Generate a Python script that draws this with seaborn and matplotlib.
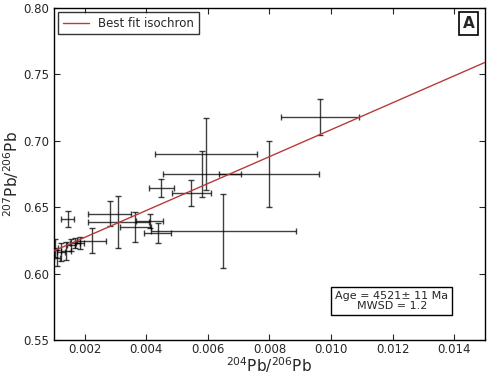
import numpy as np
import pandas as pd
import matplotlib
matplotlib.use("Agg")
import matplotlib.pyplot as plt
import seaborn as sns

# Data
pb204_206 = [0.00964, 0.00799, 0.00595, 0.00582, 0.00547, 0.00449, 0.00650,
             0.00145, 0.00223, 0.00281, 0.00310, 0.00365, 0.00411, 0.00437,
             0.00103, 0.00110, 0.00123, 0.00139, 0.00155, 0.00168, 0.00184]
pb207_206 = [0.718, 0.675, 0.690, 0.675, 0.6607, 0.6645, 0.632,
             0.6411, 0.6245, 0.6449, 0.6389, 0.6351, 0.6396, 0.6306,
             0.6193, 0.6117, 0.6163, 0.6170, 0.6215, 0.6230, 0.6230]
x_err = [0.00128, 0.00162, 0.00165, 0.00126, 0.00063, 0.00040, 0.00236,
         0.00021, 0.00047, 0.00071, 0.00100, 0.00049, 0.00045, 0.00045,
         0.00010, 0.00010, 0.00013, 0.00016, 0.00013, 0.00016, 0.00013]
y_err = [0.0136, 0.0248, 0.0271, 0.0173, 0.0098, 0.0068, 0.0279,
         0.0060, 0.0094, 0.0094, 0.0196, 0.0113, 0.0053, 0.0075,
         0.0068, 0.0060, 0.0068, 0.0068, 0.0045, 0.0038, 0.0045]

fit_x = [0.001, 0.015]
fit_y = [0.617, 0.759]

x_ticks = [0.002, 0.004, 0.006, 0.008, 0.010, 0.012, 0.014]
y_ticks = [0.55, 0.60, 0.65, 0.70, 0.75, 0.80]

sns.set_style("ticks")
plt.rcParams['font.family'] = ['DejaVu Sans']
plt.rcParams['xtick.direction'] = 'in'
plt.rcParams['ytick.direction'] = 'in'

fig = plt.figure(figsize=(4.89, 3.76), dpi=100)
ax = fig.add_axes([0.110, 0.096, 0.882, 0.883])

fit_df = pd.DataFrame({"x": fit_x, "y": fit_y})
sns.lineplot(data=fit_df, x="x", y="y", ax=ax, color="#b83a3a", linewidth=1.0,
             label="Best fit isochron", zorder=3)

ax.errorbar(pb204_206, pb207_206, xerr=x_err, yerr=y_err, fmt='none',
            ecolor='black', elinewidth=1.0, capsize=2.5, capthick=1.0,
            alpha=0.75, zorder=2)

ax.set_xlim(0.001, 0.015)
ax.set_ylim(0.55, 0.80)
ax.set_xticks(x_ticks)
ax.set_xticklabels([f"{t:.3f}" for t in x_ticks])
ax.set_yticks(y_ticks)
ax.set_yticklabels([f"{t:.2f}" for t in y_ticks])
ax.tick_params(axis='both', labelsize=8.5, top=True, right=True, length=4, width=0.8)
ax.tick_params(axis='x', pad=2)
for s in ax.spines.values():
    s.set_linewidth(1.0)
    s.set_color('black')

ax.set_xlabel(r"$^{204}$Pb/$^{206}$Pb", fontsize=11)
ax.set_ylabel(r"$^{207}$Pb/$^{206}$Pb", fontsize=11)
ax.xaxis.set_label_coords(0.5, -0.045)
ax.yaxis.set_label_coords(-0.077, 0.5)

leg = ax.legend(loc='upper left', fontsize=8.5, fancybox=False, frameon=True,
                handlelength=2.2, borderpad=0.4, borderaxespad=0.35)
leg.get_frame().set_edgecolor('black')
leg.get_frame().set_linewidth(1.0)

ax.text(0.975, 0.975, "A", transform=ax.transAxes, ha='right', va='top',
        fontsize=11, fontweight='bold',
        bbox=dict(boxstyle='square,pad=0.25', facecolor='white', edgecolor='black', linewidth=1.2))

ax.text(0.784, 0.117, "Age = 4521± 11 Ma\nMWSD = 1.2", transform=ax.transAxes,
        ha='center', va='center', fontsize=8, linespacing=1.0,
        bbox=dict(boxstyle='square,pad=0.35', facecolor='white', edgecolor='black', linewidth=1.0))

fig.savefig("out.png", dpi=100)
